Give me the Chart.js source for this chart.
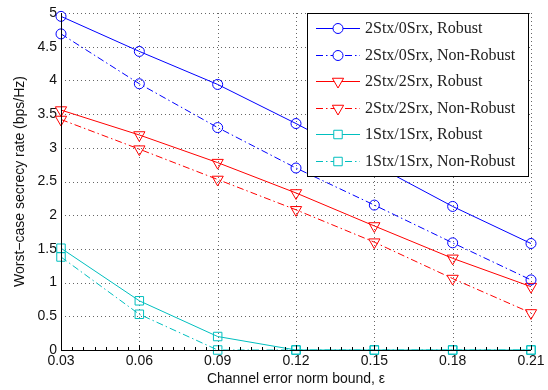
<!DOCTYPE html>
<html><head><meta charset="utf-8">
<script src="https://cdn.jsdelivr.net/npm/chart.js@4/dist/chart.umd.min.js"></script>
<style>html,body{margin:0;padding:0;background:#fff}#wrap{width:548px;height:390px;position:relative}</style>
</head><body><div id="wrap"><canvas id="c" width="548" height="390"></canvas></div>
<script>
// ---- data ----
const epsilon = [0.03, 0.06, 0.09, 0.12, 0.15, 0.18, 0.21];
const xTickValues = [0.03, 0.06, 0.09, 0.12, 0.15, 0.18, 0.21];
const seriesLabels = ['2Stx/0Srx, Robust','2Stx/0Srx, Non-Robust','2Stx/2Srx, Robust','2Stx/2Srx, Non-Robust','1Stx/1Srx, Robust','1Stx/1Srx, Non-Robust'];
const s2x0Robust    = [4.95, 4.43, 3.94, 3.36, 2.75, 2.13, 1.58];
const s2x0NonRobust = [4.69, 3.95, 3.30, 2.70, 2.15, 1.59, 1.04];
const s2x2Robust    = [3.56, 3.19, 2.78, 2.33, 1.84, 1.36, 0.94];
const s2x2NonRobust = [3.42, 2.98, 2.53, 2.08, 1.60, 1.06, 0.55];
const s1x1Robust    = [1.51, 0.73, 0.20, 0, 0, 0, 0];
const s1x1NonRobust = [1.38, 0.53, 0, 0, 0, 0, 0];
const xTitle = 'Channel error norm bound, \u03b5';
const yTitle = 'Worst\u2212case secrecy rate (bps/Hz)';

// ---- styles ----
const BLUE = '#0000ff', RED = '#ff0000', CYAN = '#00bfbf';
const DASHDOT = [7, 3, 1.5, 3];
function ds(label, values, color, dashed, style, radius, rot) {
  return {
    label, data: epsilon.map((x, i) => ({x, y: values[i]})),
    borderColor: color, backgroundColor: 'rgba(0,0,0,0)', borderWidth: 1,
    borderDash: dashed ? DASHDOT : [], pointStyle: style, pointRadius: radius,
    pointRotation: rot || 0, pointBorderColor: color, pointBackgroundColor: 'rgba(0,0,0,0)',
    pointBorderWidth: 1, pointHoverRadius: radius, tension: 0, clip: false
  };
}
const datasets = [
  ds(seriesLabels[0], s2x0Robust, BLUE, false, 'circle', 5),
  ds(seriesLabels[1], s2x0NonRobust, BLUE, true, 'circle', 5),
  ds(seriesLabels[2], s2x2Robust, RED, false, 'triangle', 6.5, 180),
  ds(seriesLabels[3], s2x2NonRobust, RED, true, 'triangle', 6.5, 180),
  ds(seriesLabels[4], s1x1Robust, CYAN, false, 'rect', 6),
  ds(seriesLabels[5], s1x1NonRobust, CYAN, true, 'rect', 6)
];

// dotted MATLAB-style grid, drawn from the scales' own ticks
const dottedGrid = {
  id: 'dottedGrid',
  beforeDatasetsDraw(chart) {
    const {ctx, chartArea: a, scales: {x, y}} = chart;
    ctx.save(); ctx.strokeStyle = 'rgba(0,0,0,0.6)'; ctx.lineWidth = 1; ctx.setLineDash([1, 3]);
    ctx.beginPath();
    x.ticks.forEach(t => {
      const px = Math.round(x.getPixelForValue(t.value)) + 0.5;
      if (px - a.left > 2) { ctx.moveTo(px, a.bottom); ctx.lineTo(px, a.top); }
    });
    y.ticks.forEach(t => {
      const py = Math.round(y.getPixelForValue(t.value)) + 0.5;
      if (a.bottom - py > 2) { ctx.moveTo(a.left, py); ctx.lineTo(a.right, py); }
    });
    ctx.stroke(); ctx.restore();
  }
};

const axisTicks = {
  id: 'axisTicks',
  afterDatasetsDraw(chart) {
    const {ctx, chartArea: a, scales: {x}} = chart;
    ctx.save(); ctx.strokeStyle = '#000'; ctx.lineWidth = 1; ctx.setLineDash([]);
    ctx.beginPath();
    ctx.moveTo(Math.round(a.left) + 0.5, a.top); ctx.lineTo(Math.round(a.left) + 0.5, a.bottom + 0.5);
    ctx.moveTo(a.left, Math.round(a.bottom) + 0.5); ctx.lineTo(a.right, Math.round(a.bottom) + 0.5);
    for (let i = 0; i < xTickValues.length; i++) {
      const px = Math.round(x.getPixelForValue(xTickValues[i])) + 0.5;
      ctx.moveTo(px, a.bottom); ctx.lineTo(px, a.bottom - 5);
      if (i < xTickValues.length - 1) {
        for (let k = 1; k < 7; k++) {
          const v = xTickValues[i] + (xTickValues[i+1] - xTickValues[i]) * k / 7;
          const mx = Math.round(x.getPixelForValue(v)) + 0.5;
          ctx.moveTo(mx, a.bottom); ctx.lineTo(mx, a.bottom - 3);
        }
      }
    }
    ctx.stroke(); ctx.restore();
  }
};

const boxLegend = {
  id: 'boxLegend',
  afterDraw(chart) {
    const ctx = chart.ctx;
    const bx = 307.5, by = 13.5, bw = 221, bh = 163;
    ctx.save();
    ctx.fillStyle = '#fff'; ctx.fillRect(bx, by, bw, bh);
    ctx.strokeStyle = '#000'; ctx.lineWidth = 1; ctx.setLineDash([]);
    ctx.strokeRect(bx, by, bw, bh);
    ctx.font = '16px "Liberation Serif"'; ctx.textBaseline = 'middle'; ctx.textAlign = 'left';
    chart.data.datasets.forEach((d, i) => {
      const cy = Math.round(28 + i * 26.6) + 0.5;
      ctx.strokeStyle = d.borderColor; ctx.lineWidth = 1;
      ctx.setLineDash(d.borderDash);
      ctx.beginPath(); ctx.moveTo(316, cy); ctx.lineTo(360, cy); ctx.stroke();
      ctx.setLineDash([]);
      ctx.fillStyle = '#fff';
      Chart.helpers.drawPoint(ctx, {pointStyle: d.pointStyle, rotation: d.pointRotation, radius: d.pointRadius, borderWidth: 1}, 338, cy);
      ctx.fillStyle = '#222';
      ctx.fillText(d.label, 365, cy);
    });
    ctx.restore();
  }
};

new Chart(document.getElementById('c'), {
  type: 'line',
  data: {datasets},
  options: {
    responsive: false, animation: false, devicePixelRatio: 1,
    layout: {padding: {top: 13, right: 17, left: 0, bottom: 0}},
    plugins: {legend: {display: false}, tooltip: {enabled: false}},
    scales: {
      x: {
        type: 'linear', min: 0.03, max: 0.21,
        afterBuildTicks: s => { s.ticks = xTickValues.map(v => ({value: v})); },
        afterFit: s => { s.height = 40; },
        ticks: {color: '#111', font: {family: '"Liberation Sans"', size: 14}, padding: 3,
                callback: v => Number(v).toFixed(2), maxRotation: 0, autoSkip: false},
        grid: {display: false, drawTicks: false},
        border: {display: false},
        title: {display: true, text: xTitle, color: '#111', font: {family: '"Liberation Sans"', size: 14}, padding: {top: 0, bottom: 2}}
      },
      y: {
        min: 0, max: 5,
        ticks: {stepSize: 0.5, color: '#111', font: {family: '"Liberation Sans"', size: 14}, padding: 4,
                callback: v => String(v)},
        afterFit: s => { s.width = 61; },
        grid: {display: false, drawTicks: false},
        border: {display: false},
        title: {display: true, text: yTitle, color: '#111', font: {family: '"Liberation Sans"', size: 14}, padding: {top: 12, bottom: 0}}
      }
    }
  },
  plugins: [dottedGrid, axisTicks, boxLegend]
});
</script>
</body></html>
